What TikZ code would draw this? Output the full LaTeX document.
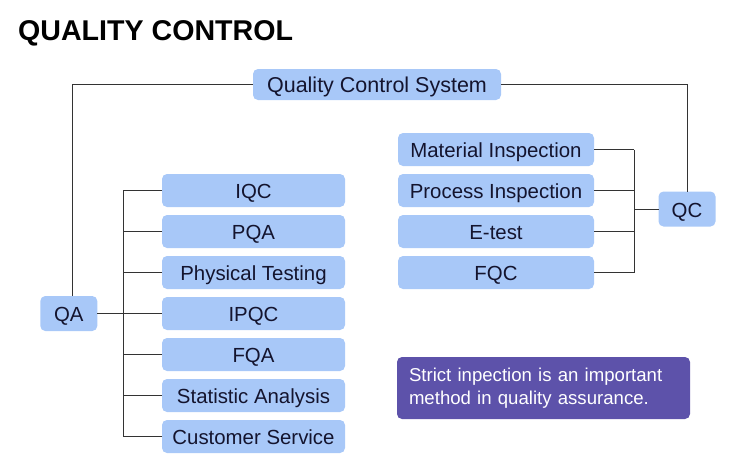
\documentclass[tikz,border=0pt]{standalone}
\usepackage{fontspec}
\setmainfont{Liberation Sans}
\usepackage{xcolor}
\usetikzlibrary{positioning}
\definecolor{boxblue}{HTML}{A8C8F8}
\definecolor{notepurple}{HTML}{5D52AA}
\definecolor{inkdark}{HTML}{14142E}
\definecolor{wire}{HTML}{333333}

\begin{document}
\begin{tikzpicture}[x=1pt,y=-1pt,node distance=8pt,
  box/.style={fill=boxblue,rounded corners=5pt,minimum height=33pt,inner sep=0pt,outer sep=0pt,
    text height=16pt,text depth=0pt,text=inkdark,font=\fontsize{20.4}{24}\selectfont},
  leftbox/.style={box,minimum width=183pt},
  rightbox/.style={box,minimum width=196pt},
  note/.style={fill=notepurple,rounded corners=5pt,minimum width=293pt,minimum height=62pt,text width=269pt,
    align=left,text=white,font=\fontsize{18.6}{23}\selectfont},
  link/.style={draw=wire,line width=1pt}]
\useasboundingbox (0,0) rectangle (750,474);
\node[anchor=west,inner sep=0pt,font=\fontsize{28.6}{30}\selectfont\bfseries] (title) at (18,33) {QUALITY CONTROL};
\node[box,minimum width=248pt,minimum height=31pt,text height=15pt,font=\fontsize{21.5}{24}\selectfont] (qcs) at (377,84.5) {Quality Control System};
\node[box,minimum width=57pt,minimum height=35pt] (qa) at (68.8,313.5) {QA};
\node[box,minimum width=57pt,minimum height=35pt] (qc) at (687,209) {QC};
% QA side
\node[leftbox] (iqc) at (253.5,190.5) {IQC};
\node[leftbox,below=of iqc] (pqa) {PQA};
\node[leftbox,below=of pqa] (phys) {Physical Testing};
\node[leftbox,below=of phys] (ipqc) {IPQC};
\node[leftbox,below=of ipqc] (fqa) {FQA};
\node[leftbox,below=of fqa] (stat) {Statistic Analysis};
\node[leftbox,below=of stat] (cust) {Customer Service};
% QC side
\node[rightbox] (mat) at (496,149.5) {Material Inspection};
\node[rightbox,below=of mat] (proc) {Process Inspection};
\node[rightbox,below=of proc] (etest) {E-test};
\node[rightbox,below=of etest] (fqc) {FQC};
\node[note] (hint) at (543.5,388) {Strict inpection is an important method in quality assurance.};
\coordinate (qatrunk) at (123,313.5);
\coordinate (qctrunk) at (634,209);
\draw[link] (qcs.west) -| ([xshift=4pt]qa.north);
\draw[link] (qcs.east) -| (qc.north);
\draw[link] (qa.east) -- (ipqc.west);
\draw[link] (iqc.west -| qatrunk) -- (cust.west -| qatrunk);
\foreach \n in {iqc,pqa,phys,fqa,stat,cust}
  \draw[link] (\n.west) -- (\n.west -| qatrunk);
\draw[link] (qc.west) -- (qctrunk);
\draw[link] (mat.east -| qctrunk) -- (fqc.east -| qctrunk);
\foreach \n in {mat,proc,etest,fqc}
  \draw[link] (\n.east) -- (\n.east -| qctrunk);
\end{tikzpicture}
\end{document}
